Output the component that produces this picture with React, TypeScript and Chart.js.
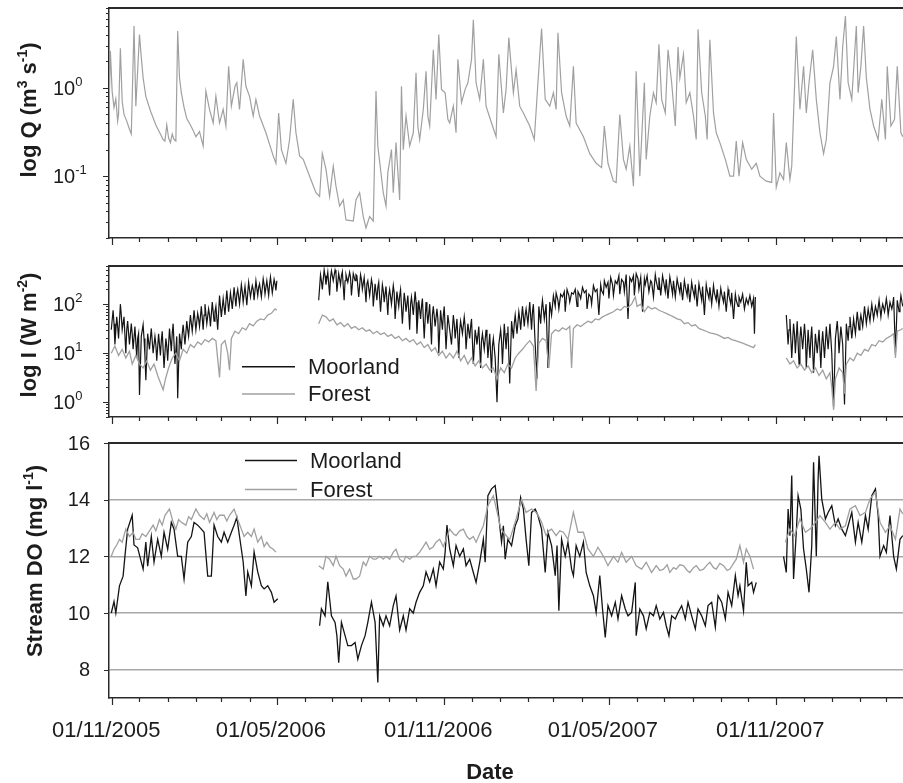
import React, { useEffect, useRef } from 'react';
import { Chart, registerables } from 'chart.js';

Chart.register(...registerables);

const FONT = '"Liberation Sans", Arial, Helvetica, sans-serif';
const TEXT = '#1c1c1c';
const AXIS = '#2a2a2a';
const GRID = '#a8a8a8';
const DARK = '#141414';
const GREY = '#a0a0a0';

// ---------- axis / tick data ----------
const dateTickLabels = ['01/11/2005', '01/05/2006', '01/11/2006', '01/05/2007', '01/11/2007'];
const X_MIN = -3.5; // days relative to 01/11/2005
const X_MAX = 869.3;
const qRange = [0.02, 8];
const iRange = [0.5, 600];
const doRange = [7, 16];
const doTicks = [8, 10, 12, 14, 16];
const seriesNames = ['Moorland', 'Forest'];
const xTitle = 'Date';

// ---------- series data: [day since 01/11/2005, value] ----------
const flowQ: [number, number][] = [
  [-3,0.9],[-2,2.6],[0,0.9],[2,0.6],[4,0.75],[6,0.42],[7,0.5],[9,2.8],[11,0.7],[13,0.5],[16,0.42],[19,0.34],[21,0.3],[24,5.0],[26,0.62],[30,4.0],[32,2.2],[34,1.3],[37,0.8],[42,0.55],[48,0.38],[53,0.3],[56,0.26],[58,0.25],[60,0.38],[62,0.27],[64,0.24],[66,0.3],[68,0.26],[70,0.25],[72,4.4],[74,1.3],[76,0.88],[79,0.6],[82,0.45],[86,0.38],[89,0.33],[92,0.28],[96,0.32],[100,0.22],[103,0.92],[107,0.57],[111,0.4],[114,0.8],[118,0.4],[122,0.57],[125,0.37],[128,1.75],[131,0.62],[135,1.04],[137,1.14],[140,0.57],[144,2.1],[147,1.04],[151,0.8],[155,0.48],[158,0.74],[162,0.48],[169,0.31],[177,0.17],[180,0.14],[183,0.52],[186,0.2],[191,0.14],[195,0.26],[199,0.74],[202,0.31],[206,0.17],[210,0.155],[217,0.1],[224,0.065],[228,0.059],[231,0.18],[235,0.12],[239,0.059],[243,0.13],[246,0.077],[250,0.046],[254,0.054],[257,0.032],[265,0.031],[268,0.054],[272,0.065],[276,0.035],[279,0.026],[283,0.035],[287,0.031],[290,0.92],[292,0.22],[298,0.065],[301,0.046],[303,0.11],[307,0.2],[309,0.065],[312,0.24],[316,0.054],[318,1.04],[320,0.2],[323,0.48],[327,0.22],[331,0.31],[334,1.48],[336,0.37],[338,0.26],[342,0.57],[345,1.54],[347,0.48],[349,0.37],[353,2.7],[356,0.74],[359,4.0],[362,0.96],[366,0.88],[369,0.44],
  [371,0.4],[375,0.62],[378,0.31],[380,2.1],[384,0.68],[388,0.96],[391,1.14],[395,2.1],[397,5.9],[400,1.14],[404,0.74],[408,2.1],[411,0.62],[417,0.4],[422,0.28],[425,2.4],[430,0.52],[433,0.96],[436,3.7],[441,0.88],[444,1.6],[448,0.62],[452,0.52],[459,0.37],[464,0.26],[468,1.14],[472,4.7],[476,0.74],[481,0.62],[485,0.88],[488,0.57],[490,4.2],[494,0.88],[499,0.48],[503,0.37],[507,1.75],[510,0.4],[518,0.28],[525,0.18],[532,0.14],[538,0.125],[541,0.37],[545,0.14],[551,0.088],[554,0.085],[558,0.5],[562,0.155],[565,0.12],[569,0.22],[573,0.077],[576,1.54],[580,0.1],[585,1.14],[587,0.155],[591,0.48],[595,0.88],[598,0.68],[601,3.1],[604,0.74],[608,0.52],[611,2.7],[615,1.14],[619,0.37],[622,2.9],[624,1.3],[628,2.4],[631,0.68],[635,0.88],[639,0.48],[642,0.26],[644,4.6],[648,0.88],[652,0.48],[654,0.26],[657,3.5],[661,0.52],[664,0.31],[668,0.24],[674,0.155],[679,0.1],[683,0.1],[686,0.25],[689,0.1],[693,0.24],[697,0.155],[703,0.12],[708,0.14],[712,0.1],[719,0.088],[725,0.085],[727,0.52],[730,0.075],[734,0.109],[738,0.092],[741,0.24],[745,0.092],[747,0.13],[752,3.8],[756,0.57],[760,1.75],[763,0.52],[766,1.14],[770,2.7],[774,0.74],[778,0.31],[782,0.18],[785,0.26],[789,1.14],[793,1.75],[796,3.8],[800,0.74],[803,2.9],[806,6.5],[809,1.14],[813,0.74],[818,5.0],[820,0.88],[823,1.75],[826,5.0],[829,1.3],[833,0.57],[837,0.37],[842,0.26],[846,0.74],[850,0.26],[852,1.75],[856,0.37],[860,0.44],[863,1.75],[867,0.31],[869,0.28],
];

const lightMoorland1: [number, number][] = [
  [-1,30],[1,75],[2,40],[3,15],[5,55],[6,35],[7,20],[9,100],[10,60],[11,30],[13,55],[15,10],[16,30],[17,45],[19,15],[21,40],[22,25],[23,12],[25,35],[27,8],[28,20],[29,25],[30,1.4],[32,22],[34,38],[35,20],[36,9],[37,2.8],[39,25],[41,12],[42,20],[43,32],[45,10],[47,22],[48,15],[49,7],[51,25],[53,9],[54,18],[55,28],[57,5],[59,20],[60,14],[61,7],[63,32],[65,11],[66,25],[67,40],[69,6],[71,22],[72,1.2],[74,25],[76,12],[77,25],[78,38],[80,15],[82,45],[83,30],[84,22],[86,60],[88,28],[89,45],[90,75],[92,30],[94,65],[95,50],[96,35],[98,90],[100,30],[101,60],[102,100],[104,40],[106,80],[107,60],[108,35],[110,110],[112,45],[113,70],[114,90],[116,30],[118,150],[119,90],[120,55],[122,130],[124,60],[125,110],[126,190],[128,70],[130,170],[131,120],[132,80],[134,220],[136,90],[137,160],[138,200],[140,100],[142,250],[143,180],[144,110],[146,230],[148,95],[149,170],[150,280],[152,140],[154,240],[155,200],[156,120],[158,300],[160,150],[161,220],[162,260],[164,140],[166,330],[167,250],[168,160],[170,300],[172,150],[173,250],[174,360],[176,170],[178,320],[179,260],[180,190],[181,300],
];
const lightMoorland2: [number, number][] = [
  [227,120],[229,400],[230,300],[231,200],[233,500],[234,380],[235,250],[237,450],[239,150],[240,350],[241,480],[243,300],[245,500],[246,420],[247,180],[249,420],[251,250],[252,380],[253,460],[255,120],[256,300],[257,400],[259,280],[261,450],[262,350],[263,150],[265,420],[267,300],[268,400],[269,380],[271,140],[273,400],[274,320],[275,200],[277,350],[279,110],[280,260],[281,300],[283,150],[285,320],[286,250],[287,90],[289,260],[291,120],[292,220],[293,280],[295,70],[297,250],[298,190],[299,110],[301,230],[303,60],[304,150],[305,200],[307,100],[309,240],[310,170],[311,50],[313,180],[315,90],[316,150],[317,200],[319,40],[321,170],[322,120],[323,70],[325,150],[327,30],[328,100],[329,140],[331,60],[333,180],[334,110],[335,25],[337,120],[339,50],[340,90],[341,130],[343,20],[345,110],[346,70],[347,40],[349,100],[351,15],[352,60],[353,90],[355,35],[357,80],[358,50],[359,10],[361,75],[363,30],[364,60],[365,90],[367,12],[369,60],[371,30],
  [373,15],[375,60],[376,40],[377,20],[379,50],[381,8],[382,30],[383,45],[385,25],[387,55],[388,35],[389,12],[391,40],[393,20],[394,35],[395,50],[397,6],[399,30],[400,22],[401,15],[403,35],[405,5],[406,18],[407,25],[409,12],[411,30],[412,20],[413,8],[415,25],[417,4],[418,14],[419,20],[421,8],[423,1.0],[425,15],[427,30],[428,18],[429,6],[431,40],[433,12],[434,25],[435,35],[437,2.4],[439,45],[441,20],[442,40],[443,60],[445,25],[447,70],[448,50],[449,30],[451,90],[453,35],[454,60],[455,80],[457,40],[459,110],[461,30],[462,70],[463,100],[465,15],[467,3],[469,90],[471,40],[472,80],[473,120],[475,50],[477,100],[479,5],[481,110],[483,60],
  [485,150],[487,90],[488,170],[490,120],[491,80],[493,160],[495,140],[497,180],[498,70],[500,200],[502,150],[503,110],[505,170],[507,160],[509,200],[511,90],[512,180],[514,150],[515,130],[517,220],[519,170],[521,190],[522,80],[524,160],[526,140],[527,100],[529,240],[531,180],[533,200],[535,60],[537,250],[538,190],[540,160],[541,300],[543,220],[545,280],[546,130],[548,350],[550,250],[551,150],[553,300],[555,260],[557,380],[558,160],[560,320],[562,280],[563,180],[565,400],[567,50],[569,350],[571,290],[573,380],[574,150],[576,420],[578,330],[579,200],[581,350],[583,70],[585,330],[586,250],[588,380],[590,180],[592,300],[593,280],[595,140],[597,400],[598,300],[600,200],[601,350],[603,150],[605,380],[606,300],[608,180],[609,320],[611,130],[613,360],[614,280],[616,160],[617,300],[619,140],[621,330],[622,260],[624,170],[625,280],[627,120],[629,300],[630,230],[632,150],[633,260],[635,110],[637,280],[638,210],[640,140],[641,250],[643,90],[645,260],[646,200],[648,120],[649,230],[651,60],[653,250],[654,190],[656,130],[657,220],[659,100],[661,240],[662,170],[664,120],[665,200],[667,90],[669,210],[670,160],[672,110],[673,180],[675,70],[677,200],[678,150],[680,100],[681,170],[683,50],[685,160],[686,120],[688,90],[689,140],[691,110],[693,160],[695,80],[697,130],[699,100],[701,150],[703,90],[705,130],[706,25],[707,140],
];
const lightMoorland3: [number, number][] = [
  [741,60],[743,15],[744,30],[745,50],[747,8],[749,40],[750,25],[751,10],[753,45],[755,6],[756,20],[757,35],[759,12],[761,40],[762,22],[763,5],[765,30],[767,8],[768,20],[769,35],[771,4],[773,25],[774,16],[775,10],[777,30],[779,5],[780,15],[781,28],[783,8],[785,35],[786,20],[787,12],[789,40],[791,10],[793,0.8],[795,20],[797,45],[798,25],[799,10],[801,35],[803,15],[805,0.9],[807,40],[809,18],[810,35],[811,55],[813,20],[815,50],[816,35],[817,25],[819,70],[821,30],[822,45],[823,60],[825,35],[827,90],[828,60],[829,40],[831,80],[833,45],[834,70],[835,100],[837,50],[839,90],[840,75],[841,60],[843,120],[845,55],[846,80],[847,100],[849,70],[851,130],[852,95],[853,60],[855,110],[857,80],[858,100],[859,140],[861,10],[863,120],[865,70],[866,100],[867,150],[869,90],
];

const lightForest1: [number, number][] = [
  [-1,10],[3,14],[7,9],[11,12],[15,8],[19,11],[22,6],[26,9],[30,6],[34,5],[38,7],[42,4.5],[46,6],[50,3.5],[53,2.5],[56,1.8],[59,3.2],[62,5],[66,8],[70,10],[74,7],[78,12],[82,10],[86,15],[90,13],[94,17],[98,15],[102,19],[106,17],[110,20],[114,18],[118,3.2],[120,15],[124,18],[127,10],[129,4.5],[131,20],[135,28],[139,25],[143,33],[147,30],[151,40],[155,36],[159,45],[163,50],[167,48],[171,60],[175,65],[179,80],[181,75],
];
const lightForest2: [number, number][] = [
  [227,40],[231,60],[235,55],[239,45],[243,50],[247,38],[251,42],[255,35],[259,40],[263,32],[267,35],[271,30],[275,33],[279,28],[283,30],[287,25],[291,28],[295,24],[299,26],[303,22],[307,24],[311,20],[315,22],[319,18],[323,20],[327,17],[331,19],[335,15],[339,17],[343,13],[347,15],[351,11],[355,13],[359,9],[363,11],[367,8],[371,10],
  [375,8],[379,11],[383,7],[387,9],[391,6],[395,8],[399,5.5],[403,7],[407,5],[411,6],[415,4.5],[419,5],[423,3],[427,5],[431,4],[435,6],[439,5],[443,8],[447,10],[451,12],[455,15],[459,18],[463,14],[466,1.7],[469,16],[473,20],[477,18],[480,5],[483,25],[487,30],[491,28],[495,33],[499,30],[503,35],[505,5],[507,32],[511,38],[515,35],[519,40],[523,45],[527,42],[531,50],[535,48],[539,55],[543,60],[547,65],[551,70],[555,80],[559,75],[563,90],[567,85],[571,100],[575,140],[577,90],[581,100],[585,70],[589,90],[593,80],[597,85],[601,75],[605,70],[609,65],[613,60],[617,55],[621,50],[625,48],[629,40],[633,42],[637,36],[641,38],[645,32],[649,30],[653,28],[657,26],[661,25],[665,24],[669,22],[673,20],[677,21],[681,19],[685,18],[689,17],[693,16],[697,15],[701,14],[705,13],[707,15],
];
const lightForest3: [number, number][] = [
  [741,8],[745,6],[749,7],[753,5],[757,6],[761,4.5],[765,5.5],[769,4],[773,5],[777,3.5],[781,4.5],[785,3],[789,4],[791,2],[793,0.7],[795,3],[799,5],[803,4],[805,1.5],[807,6],[811,8],[815,7],[819,10],[823,9],[827,12],[831,11],[835,15],[839,14],[843,18],[847,17],[851,20],[855,22],[859,25],[861,8],[863,28],[867,30],[869,32],
];

const doMoorland1: [number, number][] = [
  [-1,10.0],[2,10.4],[4,10.0],[8,10.96],[12,11.3],[14,12.0],[17,12.96],[22,13.45],[24,12.4],[28,12.3],[34,11.55],[37,12.5],[39,11.65],[43,12.7],[46,11.8],[50,12.6],[54,12.0],[57,12.85],[61,12.25],[65,13.2],[68,12.96],[72,12.0],[76,12.0],[79,11.2],[83,12.5],[87,12.7],[90,13.2],[94,13.1],[98,12.96],[101,12.85],[105,11.3],[109,11.3],[112,13.1],[116,12.7],[120,12.5],[123,12.85],[127,12.5],[131,12.85],[134,13.1],[137,13.38],[140,12.7],[144,11.8],[147,10.6],[149,11.45],[153,10.96],[156,12.15],[160,11.45],[164,10.96],[167,10.85],[171,10.96],[175,10.73],[178,10.38],[182,10.5],
];
const doMoorland2: [number, number][] = [
  [228,9.55],[230,10.15],[234,9.9],[237,11.1],[241,9.9],[245,9.67],[247,9.2],[249,8.25],[252,9.67],[256,9.2],[259,8.85],[263,8.85],[267,8.96],[270,8.37],[274,8.85],[278,9.2],[281,9.67],[285,10.38],[289,9.67],[292,7.55],[294,9.9],[298,9.55],[301,9.9],[305,9.55],[309,10.26],[312,10.6],[316,9.4],[320,9.9],[323,9.4],[327,10.15],[331,10.0],[334,10.38],[338,10.73],[342,10.96],[345,11.45],[349,11.1],[353,11.55],[356,10.96],[360,11.8],[364,11.55],[366,12.15],[368,13.1],[371,12.26],
  [375,11.67],[378,12.38],[382,12.0],[386,12.26],[389,11.67],[393,11.9],[397,11.43],[400,11.08],[404,11.79],[408,12.6],[410,11.79],[413,14.14],[417,14.38],[421,14.5],[424,13.67],[428,12.5],[430,13.08],[432,11.9],[435,12.6],[439,12.38],[443,13.08],[446,13.32],[449,14.08],[452,13.67],[455,12.6],[458,11.67],[461,13.55],[465,13.67],[468,13.44],[472,12.96],[476,11.43],[479,12.85],[483,12.38],[487,11.32],[489,12.38],[491,10.08],[494,12.6],[498,12.0],[501,12.5],[505,11.55],[507,11.32],[510,12.38],[514,12.0],[518,12.5],[521,11.43],[525,10.96],[529,10.61],[532,10.02],[536,11.32],[539,10.14],[542,9.14],[545,10.26],[549,9.9],[553,10.38],[556,9.79],[560,10.61],[564,10.14],[567,9.9],[571,10.02],[575,11.08],[576,9.2],[580,10.14],[584,9.9],[587,9.44],[591,10.02],[595,9.9],[598,10.26],[602,9.79],[606,10.02],[609,9.55],[612,9.2],[615,9.9],[619,9.79],[622,10.02],[626,10.26],[630,9.79],[633,10.38],[637,9.9],[641,9.44],[644,10.14],[648,9.9],[652,9.55],[655,10.26],[659,10.38],[663,9.5],[666,10.61],[670,10.38],[674,9.79],[677,10.73],[681,10.26],[685,11.32],[688,10.61],[690,10.96],[694,10.08],[697,11.79],[699,10.96],[703,11.08],[705,10.73],[708,11.08],
];
const doMoorland3: [number, number][] = [
  [738,12.0],[741,11.43],[743,13.67],[745,12.73],[747,14.85],[749,11.2],[752,12.85],[754,14.14],[757,13.67],[760,12.26],[763,11.55],[766,10.73],[769,12.38],[771,15.32],[774,12.0],[776,14.73],[777,15.55],[780,14.02],[784,13.32],[787,13.55],[791,13.79],[795,13.08],[798,13.32],[802,12.96],[806,12.73],[809,13.08],[813,13.55],[817,12.5],[820,13.2],[824,12.5],[828,13.44],[831,12.96],[835,14.14],[839,14.38],[842,13.44],[844,12.0],[848,12.38],[851,12.14],[855,13.44],[859,12.0],[862,11.55],[866,12.6],[869,12.73],
];

const doForest1: [number, number][] = [
  [-1,12.0],[2,12.25],[5,12.4],[8,12.6],[11,12.5],[15,12.96],[19,12.7],[23,12.85],[26,12.6],[30,12.6],[33,12.8],[37,12.7],[41,12.9],[45,13.1],[48,12.9],[52,13.3],[55,13.1],[58,13.45],[63,13.67],[67,13.2],[70,12.96],[73,13.3],[76,13.2],[81,13.1],[84,13.4],[87,13.3],[92,13.67],[96,13.45],[101,13.3],[104,13.5],[107,13.2],[112,13.55],[115,13.3],[118,13.45],[123,13.45],[126,13.25],[129,13.45],[134,13.67],[138,13.3],[142,12.96],[145,12.7],[149,12.85],[153,12.7],[156,12.96],[160,12.5],[164,12.7],[167,12.34],[170,12.5],[173,12.34],[177,12.25],[180,12.15],
];
const doForest2: [number, number][] = [
  [227,11.67],[232,11.55],[235,12.0],[239,11.9],[243,11.67],[246,12.0],[250,11.67],[254,11.55],[257,11.3],[261,11.55],[265,11.2],[268,11.2],[272,11.3],[276,11.8],[279,11.67],[283,12.0],[287,11.9],[290,11.9],[294,12.0],[298,11.9],[301,12.0],[305,11.9],[309,12.15],[312,12.25],[316,11.9],[320,11.8],[323,12.0],[327,11.9],[331,12.0],[334,12.0],[338,12.15],[342,12.34],[345,12.5],[349,12.25],[353,12.34],[356,12.5],[360,12.6],[364,12.34],[367,12.6],[371,12.96],
  [375,12.8],[378,12.73],[382,12.9],[386,12.96],[390,12.7],[393,12.6],[397,12.7],[400,12.5],[404,12.8],[408,13.08],[413,13.79],[419,14.14],[424,13.44],[427,13.0],[430,12.85],[434,12.7],[437,12.6],[441,13.0],[444,13.32],[450,14.02],[455,13.55],[461,13.67],[466,13.55],[469,13.4],[472,13.2],[477,12.73],[480,12.9],[483,12.96],[488,12.73],[492,12.9],[496,12.85],[501,12.6],[507,13.55],[512,12.85],[518,12.85],[523,12.26],[529,12.0],[534,12.32],[540,12.0],[545,11.67],[551,12.0],[556,11.79],[560,12.14],[565,11.79],[571,12.0],[576,11.67],[582,11.55],[587,11.79],[593,11.43],[598,11.67],[602,11.5],[606,11.55],[610,11.7],[613,11.43],[617,11.6],[620,11.55],[624,11.7],[628,11.67],[632,11.5],[635,11.43],[639,11.6],[642,11.67],[646,11.5],[650,11.55],[654,11.7],[657,11.79],[661,11.6],[664,11.55],[668,11.75],[672,11.67],[676,11.5],[679,11.55],[683,11.75],[686,11.9],[690,12.38],[694,11.79],[697,12.26],[701,12.0],[705,11.55],
];
const doForest3: [number, number][] = [
  [740,12.5],[745,12.96],[750,12.73],[756,13.32],[762,12.85],[767,12.96],[773,13.2],[778,13.44],[784,13.2],[789,12.96],[795,13.2],[800,12.96],[806,13.08],[811,13.67],[817,13.79],[822,13.44],[828,13.55],[833,14.02],[839,14.26],[844,13.2],[850,12.85],[855,13.08],[861,12.6],[866,13.67],[869,13.5],
];

// ---------- helpers ----------
const ORIGIN = Date.UTC(2005, 10, 1);
const dayFromLabel = (s: string) => {
  const [d, m, y] = s.split('/').map(Number);
  return (Date.UTC(y, m - 1, d) - ORIGIN) / 86400000;
};
const labelDays = dateTickLabels.map(dayFromLabel);

const monthTicks = (() => {
  const arr: { d: number; major: boolean }[] = [];
  for (let i = 0; i < 60; i++) {
    const t = Date.UTC(2005, 10 + i, 1);
    const d = (t - ORIGIN) / 86400000;
    if (d > X_MAX) break;
    const m = new Date(t).getUTCMonth();
    arr.push({ d, major: m === 10 || m === 4 });
  }
  return arr;
})();

const toPoints = (segs: [number, number][][]) => {
  const out: { x: number; y: number | null }[] = [];
  segs.forEach((seg, i) => {
    if (i > 0) {
      const prev = segs[i - 1];
      out.push({ x: (prev[prev.length - 1][0] + seg[0][0]) / 2, y: null });
    }
    seg.forEach(([x, y]) => out.push({ x, y }));
  });
  return out;
};

type Seg = { t: string; sup?: boolean };

function richText(ctx: CanvasRenderingContext2D, segs: Seg[], x: number, y: number, size: number, supSize: number, weight: string, rise: number, align: 'left' | 'center' | 'right') {
  const ws = segs.map((s) => {
    ctx.font = `${weight} ${s.sup ? supSize : size}px ${FONT}`;
    return ctx.measureText(s.t).width;
  });
  const total = ws.reduce((a, b) => a + b, 0);
  let cx = align === 'center' ? x - total / 2 : align === 'right' ? x - total : x;
  ctx.textAlign = 'left';
  ctx.textBaseline = 'alphabetic';
  segs.forEach((s, i) => {
    ctx.font = `${weight} ${s.sup ? supSize : size}px ${FONT}`;
    ctx.fillText(s.t, cx, s.sup ? y - rise : y);
    cx += ws[i];
  });
}

interface PanelCfg {
  title: Seg[];
  titleX: number;
  titleY: number;
  log: boolean;
  legend?: { x1: number; x2: number; tx: number; ys: number[] };
  showDateTitle?: boolean;
}

function makeDeco(cfg: PanelCfg) {
  return {
    id: 'deco',
    afterDraw(chart: any) {
      const ctx: CanvasRenderingContext2D = chart.ctx;
      const a = chart.chartArea;
      const xs = chart.scales.x;
      const ys = chart.scales.y;
      ctx.save();
      ctx.strokeStyle = AXIS;
      ctx.fillStyle = TEXT;
      // top frame line
      ctx.lineWidth = 2;
      ctx.beginPath();
      ctx.moveTo(a.left, a.top);
      ctx.lineTo(a.right, a.top);
      ctx.stroke();
      // x tick marks (monthly)
      ctx.lineWidth = 1.2;
      ctx.beginPath();
      monthTicks.forEach((t) => {
        const px = Math.round(xs.getPixelForValue(t.d)) + 0.5;
        ctx.moveTo(px, a.bottom);
        ctx.lineTo(px, a.bottom + (t.major ? 7 : 4));
      });
      ctx.stroke();
      // y ticks + labels
      if (cfg.log) {
        const lo = Math.floor(Math.log10(ys.min));
        const hi = Math.ceil(Math.log10(ys.max));
        ctx.beginPath();
        for (let k = lo; k <= hi; k++) {
          for (let j = 1; j <= 9; j++) {
            const v = j * Math.pow(10, k);
            if (v < ys.min || v > ys.max) continue;
            const py = Math.round(ys.getPixelForValue(v)) + 0.5;
            const len = j === 1 ? 6 : 3;
            ctx.moveTo(a.left - len, py);
            ctx.lineTo(a.left, py);
          }
        }
        ctx.stroke();
        for (let k = lo; k <= hi; k++) {
          const v = Math.pow(10, k);
          if (v < ys.min || v > ys.max) continue;
          const py = ys.getPixelForValue(v);
          richText(ctx, [{ t: '10' }, { t: String(k), sup: true }], 53, py + 7, 20, 13, 'normal', 9, 'left');
        }
      } else {
        ctx.beginPath();
        doTicks.forEach((v) => {
          const py = Math.round(ys.getPixelForValue(v)) + 0.5;
          ctx.moveTo(a.left - 5, py);
          ctx.lineTo(a.left, py);
        });
        ctx.stroke();
        ctx.fillStyle = TEXT;
        ctx.font = `20px ${FONT}`;
        ctx.textAlign = 'right';
        ctx.textBaseline = 'middle';
        doTicks.forEach((v) => {
          ctx.fillText(String(v), 90, ys.getPixelForValue(v) + 1);
        });
      }
      // y title
      ctx.save();
      ctx.translate(cfg.titleX, cfg.titleY);
      ctx.rotate(-Math.PI / 2);
      ctx.fillStyle = TEXT;
      richText(ctx, cfg.title, 0, 0, 22, 14, 'bold', 9, 'center');
      ctx.restore();
      // legend
      if (cfg.legend) {
        const L = cfg.legend;
        const cols = [DARK, GREY];
        seriesNames.forEach((name, i) => {
          ctx.strokeStyle = cols[i];
          ctx.lineWidth = 1.6;
          ctx.beginPath();
          ctx.moveTo(L.x1, L.ys[i]);
          ctx.lineTo(L.x2, L.ys[i]);
          ctx.stroke();
          ctx.fillStyle = TEXT;
          ctx.font = `22px ${FONT}`;
          ctx.textAlign = 'left';
          ctx.textBaseline = 'middle';
          ctx.fillText(name, L.tx, L.ys[i] + 1);
        });
      }
      if (cfg.showDateTitle) {
        ctx.fillStyle = TEXT;
        ctx.font = `bold 22px ${FONT}`;
        ctx.textAlign = 'center';
        ctx.textBaseline = 'middle';
        ctx.fillText(xTitle, 490, 343);
      }
      ctx.restore();
    },
  };
}

function xScale(showLabels: boolean, height: number) {
  return {
    type: 'linear',
    min: X_MIN,
    max: X_MAX,
    grid: { display: false, drawTicks: false },
    border: { display: true, color: AXIS, width: 1.5 },
    ticks: {
      display: showLabels,
      autoSkip: false,
      maxRotation: 0,
      minRotation: 0,
      padding: 20,
      labelOffset: -6,
      color: TEXT,
      font: { family: FONT, size: 22 },
      callback: (_v: any, i: number) => dateTickLabels[i] ?? '',
    },
    afterBuildTicks: (s: any) => {
      s.ticks = labelDays.map((d) => ({ value: d }));
    },
    afterFit: (s: any) => {
      s.height = height;
    },
  };
}

function baseOptions(padTop: number, scales: any) {
  return {
    responsive: false,
    animation: false,
    devicePixelRatio: 1,
    layout: { padding: { top: padTop, left: 0, right: 0, bottom: 0 } },
    plugins: { legend: { display: false }, tooltip: { enabled: false } },
    elements: { point: { radius: 0 }, line: { borderWidth: 1.3, tension: 0 } },
    events: [],
    scales,
  };
}

const logY = (range: number[]) => ({
  type: 'logarithmic',
  min: range[0],
  max: range[1],
  grid: { display: false, drawTicks: false },
  border: { display: true, color: AXIS, width: 1.5 },
  ticks: { display: false },
  afterFit: (s: any) => {
    s.width = 109;
  },
});

function buildQ() {
  return {
    type: 'line',
    data: {
      datasets: [
        { label: 'Q', data: toPoints([flowQ]), borderColor: GREY, borderWidth: 1.2, spanGaps: false },
      ],
    },
    options: baseOptions(8, { x: xScale(false, 12), y: logY(qRange) }),
    plugins: [
      makeDeco({
        title: [{ t: 'log Q (m' }, { t: '3', sup: true }, { t: ' s' }, { t: '-1', sup: true }, { t: ')' }],
        titleX: 36,
        titleY: 110,
        log: true,
      }),
    ],
  };
}

function buildI() {
  return {
    type: 'line',
    data: {
      datasets: [
        { label: seriesNames[1], data: toPoints([lightForest1, lightForest2, lightForest3]), borderColor: GREY, borderWidth: 1.3, spanGaps: false },
        { label: seriesNames[0], data: toPoints([lightMoorland1, lightMoorland2, lightMoorland3]), borderColor: DARK, borderWidth: 1.2, spanGaps: false },
      ],
    },
    options: baseOptions(16, { x: xScale(false, 13), y: logY(iRange) }),
    plugins: [
      makeDeco({
        title: [{ t: 'log I (W m' }, { t: '-2', sup: true }, { t: ')' }],
        titleX: 36,
        titleY: 85,
        log: true,
        legend: { x1: 242, x2: 295, tx: 308, ys: [116.7, 144] },
      }),
    ],
  };
}

function buildDO() {
  return {
    type: 'line',
    data: {
      datasets: [
        { label: seriesNames[1], data: toPoints([doForest1, doForest2, doForest3]), borderColor: GREY, borderWidth: 1.3, spanGaps: false },
        { label: seriesNames[0], data: toPoints([doMoorland1, doMoorland2, doMoorland3]), borderColor: DARK, borderWidth: 1.3, spanGaps: false },
      ],
    },
    options: baseOptions(13, {
      x: xScale(true, 85),
      y: {
        type: 'linear',
        min: doRange[0],
        max: doRange[1],
        grid: {
          display: true,
          drawTicks: false,
          lineWidth: 1.5,
          color: (c: any) => (c.tick && c.tick.value < doRange[1] - 0.01 ? GRID : 'rgba(0,0,0,0)'),
        },
        border: { display: true, color: AXIS, width: 1.5 },
        ticks: { display: false },
        afterBuildTicks: (s: any) => {
          s.ticks = doTicks.map((v) => ({ value: v }));
        },
        afterFit: (s: any) => {
          s.width = 109;
        },
      },
    }),
    plugins: [
      makeDeco({
        title: [{ t: 'Stream DO (mg l' }, { t: '-1', sup: true }, { t: ')' }],
        titleX: 42,
        titleY: 131,
        log: false,
        legend: { x1: 245, x2: 297, tx: 310, ys: [30.5, 59.5] },
        showDateTitle: true,
      }),
    ],
  };
}

function Panel({ build, top, height }: { build: () => any; top: number; height: number }) {
  const ref = useRef<HTMLCanvasElement>(null);
  useEffect(() => {
    if (!ref.current) return;
    const chart = new Chart(ref.current, build());
    return () => chart.destroy();
  }, []);
  return (
    <canvas
      ref={ref}
      width={903}
      height={height}
      style={{ position: 'absolute', left: 0, top, width: 903, height, display: 'block' }}
    />
  );
}

export default function App() {
  return (
    <div
      style={{
        position: 'fixed',
        left: 0,
        top: 0,
        width: 903,
        height: 783,
        background: '#ffffff',
        overflow: 'hidden',
      }}
    >
      <Panel build={buildQ} top={0} height={250} />
      <Panel build={buildI} top={250} height={180} />
      <Panel build={buildDO} top={430} height={353} />
    </div>
  );
}
